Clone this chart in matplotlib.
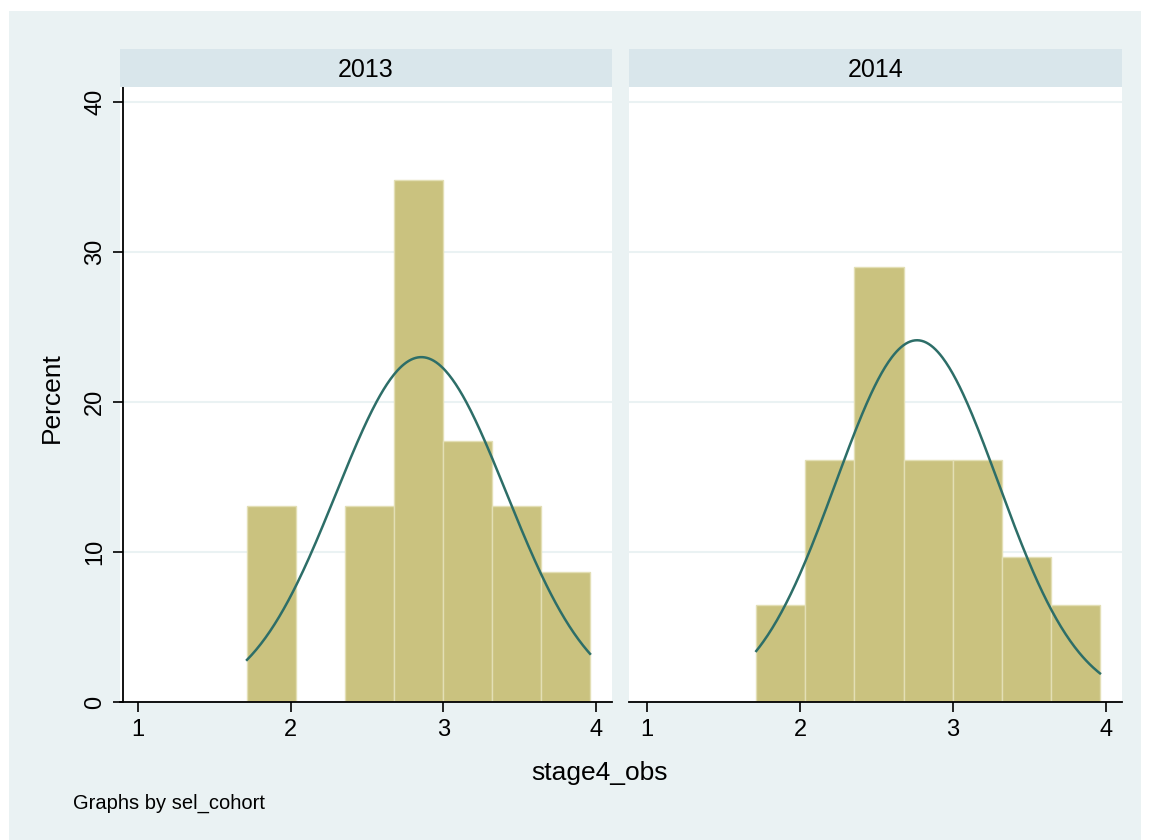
import matplotlib
matplotlib.use('Agg')
import matplotlib.pyplot as plt
import numpy as np
from matplotlib.patches import Rectangle

plt.rc('font', family=['Liberation Sans', 'DejaVu Sans'])

# histogram bins (stage4_obs) and percent per bin
bin_edges = [1.714, 2.035, 2.356, 2.677, 2.998, 3.319, 3.640, 3.961]
years = ['2013', '2014']
pct_2013 = [13.04, 0.0, 13.04, 34.78, 17.39, 13.04, 8.70]
pct_2014 = [6.45, 16.13, 29.03, 16.13, 16.13, 9.68, 6.45]
# fitted normal curve parameters (mean, sd) per cohort
norm_2013 = (2.856, 0.557)
norm_2014 = (2.765, 0.531)

x_ticks = [1, 2, 3, 4]
y_ticks = [0, 10, 20, 30, 40]

bg = '#EAF2F3'
strip_col = '#D9E6EB'
bar_col = '#CAC27F'
bar_edge = '#E3DFB5'
line_col = '#2D6E68'

W, H = 1151, 840
fig = plt.figure(figsize=(W / 100, H / 100), dpi=100)
fig.patch.set_facecolor('white')
fig.add_artist(Rectangle((9 / W, 0), (1141 - 9) / W, (840 - 11) / H,
                         transform=fig.transFigure, facecolor=bg,
                         edgecolor='none', zorder=-10))

def fx(px):
    return px / W

def fy(py):
    return 1 - py / H

panels = [(120, 612), (629, 1122)]
data = [(pct_2013, norm_2013), (pct_2014, norm_2014)]
edges = np.array(bin_edges)
widths = np.diff(edges)

for i, ((x0, x1), (pct, (mu, sd)), yr) in enumerate(zip(panels, data, years)):
    ax = fig.add_axes([fx(x0), fy(702), fx(x1 - x0), (702 - 87) / H])
    ax.set_facecolor('white')
    ax.bar(edges[:-1], pct, width=widths, align='edge', color=bar_col,
           edgecolor=bar_edge, linewidth=1.0, zorder=2)
    xs = np.linspace(edges[0], edges[-1], 300)
    ys = 100 * widths.mean() * np.exp(-0.5 * ((xs - mu) / sd) ** 2) / (sd * np.sqrt(2 * np.pi))
    ax.plot(xs, ys, color=line_col, linewidth=1.8, zorder=3)

    ax.set_xlim(0.882, 4.105)
    ax.set_ylim(0, 41)
    ax.set_xticks(x_ticks)
    ax.set_yticks(y_ticks)
    ax.yaxis.grid(True, color=bg, linewidth=1.5, zorder=0)
    ax.set_axisbelow(True)
    for s in ['top', 'right']:
        ax.spines[s].set_visible(False)
    ax.spines['bottom'].set_linewidth(1.3)
    ax.tick_params(axis='x', length=7, width=1.2, labelsize=17, pad=5)
    if i == 0:
        ax.spines['left'].set_linewidth(1.3)
        ax.spines['left'].set_position(('outward', -2))
        ax.tick_params(axis='y', length=7, width=1.2, labelsize=17, pad=5)
        for lab in ax.get_yticklabels():
            lab.set_rotation(90)
            lab.set_va('center')
    else:
        ax.spines['left'].set_visible(False)
        ax.tick_params(axis='y', length=0, labelleft=False)

    # strip header
    sax = fig.add_axes([fx(x0), fy(87), fx(x1 - x0), (87 - 49) / H])
    sax.set_facecolor(strip_col)
    sax.set_xticks([])
    sax.set_yticks([])
    for s in sax.spines.values():
        s.set_visible(False)
    sax.text(0.5, 0.45, yr, ha='center', va='center', fontsize=18,
             transform=sax.transAxes)

fig.text(fx(52), fy(398), 'Percent', rotation=90, ha='center', va='center',
         fontsize=19)
fig.text(fx(600), fy(773), 'stage4_obs', ha='center', va='center', fontsize=19)
fig.text(fx(73), fy(803), 'Graphs by sel_cohort', ha='left', va='center',
         fontsize=14.5)

fig.savefig('out.png', dpi=100, facecolor=fig.get_facecolor())
